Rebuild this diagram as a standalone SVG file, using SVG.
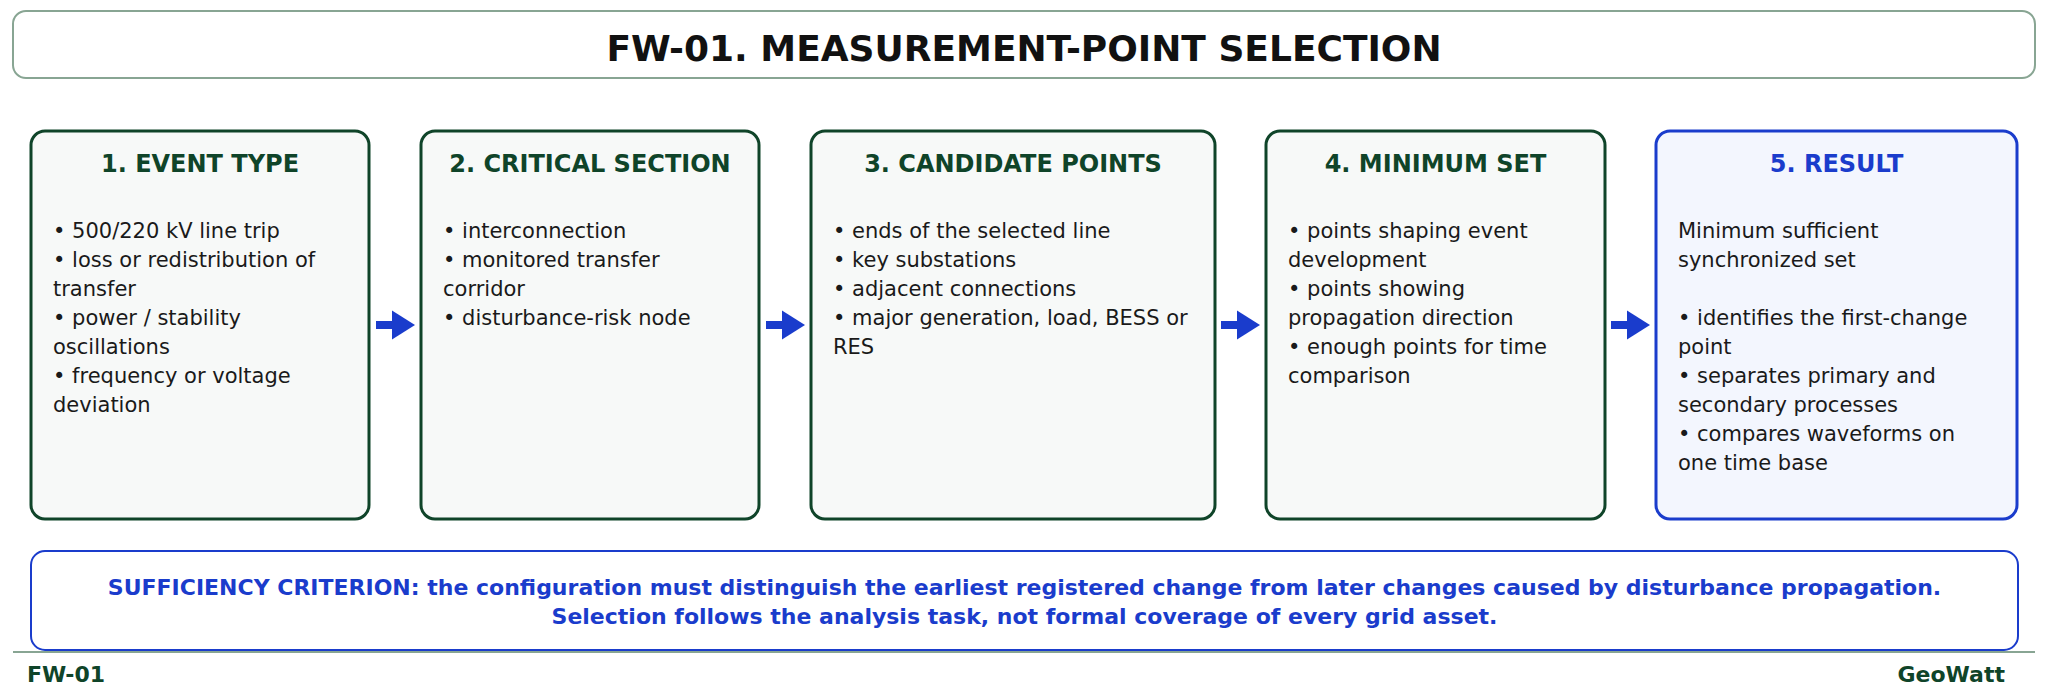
<svg xmlns="http://www.w3.org/2000/svg" width="2048" height="700" viewBox="0 0 2048 700">
<style>
  text { font-family: "DejaVu Sans", "Liberation Sans", sans-serif; }
  .bg { fill: #ffffff; }
  .hdr { fill: #ffffff; stroke: #88a593; stroke-width: 2; }
  .ttl { font-size: 36px; font-weight: bold; fill: #111111; text-anchor: middle; }
  .box { fill: #f7f9f8; stroke: #0f4429; stroke-width: 3; }
  .rbox { fill: #f3f6fe; stroke: #1a3ccc; stroke-width: 3; }
  .bt { font-size: 24px; font-weight: bold; fill: #0f4429; text-anchor: middle; }
  .rbt { font-size: 24px; font-weight: bold; fill: #1a3ccc; text-anchor: middle; }
  .tx { font-size: 21px; fill: #1a1a1a; }
  .crit { fill: #ffffff; stroke: #1a3ccc; stroke-width: 2; }
  .ct { font-size: 22px; font-weight: bold; fill: #1a3ccc; text-anchor: middle; }
  .ft { font-size: 22px; font-weight: bold; fill: #0f4429; }
  .arr { stroke: #1a3ccc; stroke-width: 8; fill: none; marker-end: url(#ah); }
  .rule { stroke: #88a593; stroke-width: 2; }
</style>
<defs>
  <marker id="ah" markerUnits="userSpaceOnUse" markerWidth="24" markerHeight="30" viewBox="0 0 24 30" refX="1" refY="15" orient="auto">
    <path d="M0,0.5 L23,15 L0,29.5 z" fill="#1a3ccc"/>
  </marker>
</defs>
<rect class="bg" x="0" y="0" width="2048" height="700"/>

<g id="header">
  <rect class="hdr" x="13" y="11" width="2022" height="67" rx="13"/>
  <text class="ttl" x="1024" y="61">FW-01. MEASUREMENT-POINT SELECTION</text>
</g>

<g id="node1">
  <rect class="box" x="31" y="131" width="338" height="388" rx="14"/>
  <text class="bt" x="200" y="172">1. EVENT TYPE</text>
  <text class="tx" x="53" y="238">• 500/220 kV line trip</text>
  <text class="tx" x="53" y="267">• loss or redistribution of</text>
  <text class="tx" x="53" y="296">transfer</text>
  <text class="tx" x="53" y="325">• power / stability</text>
  <text class="tx" x="53" y="354">oscillations</text>
  <text class="tx" x="53" y="383">• frequency or voltage</text>
  <text class="tx" x="53" y="412">deviation</text>
</g>

<g id="node2">
  <rect class="box" x="421" y="131" width="338" height="388" rx="14"/>
  <text class="bt" x="590" y="172">2. CRITICAL SECTION</text>
  <text class="tx" x="443" y="238">• interconnection</text>
  <text class="tx" x="443" y="267">• monitored transfer</text>
  <text class="tx" x="443" y="296">corridor</text>
  <text class="tx" x="443" y="325">• disturbance-risk node</text>
</g>

<g id="node3">
  <rect class="box" x="811" y="131" width="404" height="388" rx="14"/>
  <text class="bt" x="1013" y="172">3. CANDIDATE POINTS</text>
  <text class="tx" x="833" y="238">• ends of the selected line</text>
  <text class="tx" x="833" y="267">• key substations</text>
  <text class="tx" x="833" y="296">• adjacent connections</text>
  <text class="tx" x="833" y="325">• major generation, load, BESS or</text>
  <text class="tx" x="833" y="354">RES</text>
</g>

<g id="node4">
  <rect class="box" x="1266" y="131" width="339" height="388" rx="14"/>
  <text class="bt" x="1435.5" y="172">4. MINIMUM SET</text>
  <text class="tx" x="1288" y="238">• points shaping event</text>
  <text class="tx" x="1288" y="267">development</text>
  <text class="tx" x="1288" y="296">• points showing</text>
  <text class="tx" x="1288" y="325">propagation direction</text>
  <text class="tx" x="1288" y="354">• enough points for time</text>
  <text class="tx" x="1288" y="383">comparison</text>
</g>

<g id="node5">
  <rect class="rbox" x="1656" y="131" width="361" height="388" rx="14"/>
  <text class="rbt" x="1836.5" y="172">5. RESULT</text>
  <text class="tx" x="1678" y="238">Minimum sufficient</text>
  <text class="tx" x="1678" y="267">synchronized set</text>
  <text class="tx" x="1678" y="325">• identifies the first-change</text>
  <text class="tx" x="1678" y="354">point</text>
  <text class="tx" x="1678" y="383">• separates primary and</text>
  <text class="tx" x="1678" y="412">secondary processes</text>
  <text class="tx" x="1678" y="441">• compares waveforms on</text>
  <text class="tx" x="1678" y="470">one time base</text>
</g>

<g id="connectors">
  <line class="arr" x1="376" y1="325" x2="393" y2="325"/>
  <line class="arr" x1="766" y1="325" x2="783" y2="325"/>
  <line class="arr" x1="1221" y1="325" x2="1238" y2="325"/>
  <line class="arr" x1="1611" y1="325" x2="1628" y2="325"/>
</g>

<g id="criterion">
  <rect class="crit" x="31" y="551" width="1987" height="99" rx="14"/>
  <text class="ct" x="1024.5" y="595">SUFFICIENCY CRITERION: the configuration must distinguish the earliest registered change from later changes caused by disturbance propagation.</text>
  <text class="ct" x="1024.5" y="624">Selection follows the analysis task, not formal coverage of every grid asset.</text>
</g>

<g id="footer">
  <line class="rule" x1="13" y1="652" x2="2035" y2="652"/>
  <text class="ft" x="27" y="682">FW-01</text>
  <text class="ft" x="2005" y="682" text-anchor="end">GeoWatt</text>
</g>
</svg>
